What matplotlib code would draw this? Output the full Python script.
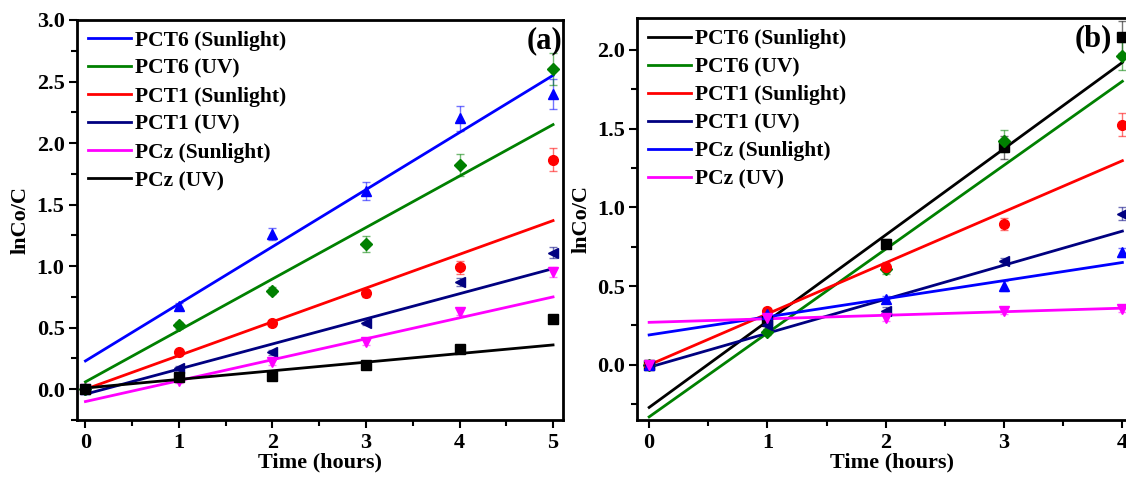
import numpy as np
import matplotlib
matplotlib.use('agg')
import matplotlib.pyplot as plt
from matplotlib.ticker import MultipleLocator

## Series names (same order in both panels)
labels = ['PCT6 (Sunlight)', 'PCT6 (UV)', 'PCT1 (Sunlight)',
          'PCT1 (UV)', 'PCz (Sunlight)', 'PCz (UV)']

## Panel (a): degradation data, 0-5 h
times_a = [0, 1, 2, 3, 4, 5]
pct6_sun_a = [0.0, 0.68, 1.26, 1.61, 2.20, 2.40]
pct6_uv_a = [0.0, 0.52, 0.80, 1.18, 1.82, 2.60]
pct1_sun_a = [0.0, 0.30, 0.535, 0.78, 0.99, 1.865]
pct1_uv_a = [0.0, 0.17, 0.30, 0.54, 0.87, 1.11]
pcz_sun_a = [0.0, 0.07, 0.22, 0.38, 0.63, 0.95]
pcz_uv_a = [0.0, 0.10, 0.11, 0.195, 0.33, 0.57]
err_a = [[0.01, 0.02, 0.05, 0.075, 0.10, 0.12],
         [0.01, 0.03, 0.03, 0.065, 0.09, 0.13],
         [0.01, 0.02, 0.02, 0.03, 0.05, 0.095],
         [0.01, 0.02, 0.02, 0.02, 0.03, 0.045],
         [0.01, 0.02, 0.02, 0.02, 0.03, 0.04],
         [0.01, 0.01, 0.01, 0.01, 0.02, 0.02]]
# linear fits: intercept, slope
fit_int_a = [0.23, 0.06, 0.0, -0.04, -0.10, 0.01]
fit_slope_a = [0.464, 0.418, 0.274, 0.204, 0.170, 0.070]

## Panel (b): degradation data, 0-4 h
times_b = [0, 1, 2, 3, 4]
pct6_sun_b = [0.0, 0.28, 0.77, 1.38, 2.08]
pct6_uv_b = [0.0, 0.21, 0.61, 1.42, 1.96]
pct1_sun_b = [0.0, 0.34, 0.62, 0.895, 1.525]
pct1_uv_b = [0.0, 0.25, 0.345, 0.66, 0.96]
pcz_sun_b = [0.0, 0.32, 0.415, 0.50, 0.715]
pcz_uv_b = [0.0, 0.30, 0.30, 0.345, 0.355]
err_b = [[0.01, 0.02, 0.03, 0.07, 0.10],
         [0.01, 0.02, 0.03, 0.07, 0.09],
         [0.01, 0.02, 0.03, 0.04, 0.075],
         [0.01, 0.02, 0.02, 0.02, 0.04],
         [0.01, 0.02, 0.02, 0.03, 0.03],
         [0.01, 0.01, 0.02, 0.02, 0.02]]
fit_int_b = [-0.27, -0.33, 0.0, -0.015, 0.19, 0.27]
fit_slope_b = [0.5475, 0.5325, 0.324, 0.216, 0.115, 0.0225]

## Colour -> marker pairing is the same in both panels
MARK = {'#0000FF': '^', '#008000': 'D', '#FF0000': 'o',
        '#000080': '<', '#FF00FF': 'v', '#000000': 's'}
colors_a = ['#0000FF', '#008000', '#FF0000', '#000080', '#FF00FF', '#000000']
colors_b = ['#000000', '#008000', '#FF0000', '#000080', '#0000FF', '#FF00FF']

plt.rcParams['font.family'] = 'Liberation Serif'
plt.rcParams['font.weight'] = 'bold'
plt.rcParams['axes.labelweight'] = 'bold'

FS = 16      # ticks and axis titles
FS_LEG = 15.5


def draw_panel(ax, t, series, errs, ints, slopes, colors, xlim, ylim, tag, tag_x):
    xfit = np.array([0, t[-1]])
    for i in range(len(series)):
        c = colors[i]
        ax.errorbar(t, series[i], yerr=errs[i], fmt='none', ecolor=c,
                    alpha=0.55, elinewidth=1, capsize=3, capthick=1, zorder=2)
        ax.plot(xfit, ints[i] + slopes[i]*xfit, color=c, lw=2,
                label=labels[i], zorder=3)
        ax.plot(t, series[i], ls='none', marker=MARK[c], color=c,
                markersize=7 if MARK[c] != 'D' else 6, zorder=4)
    ax.set_xlim(*xlim)
    ax.set_ylim(*ylim)
    ax.xaxis.set_major_locator(MultipleLocator(1))
    ax.xaxis.set_minor_locator(MultipleLocator(0.5))
    ax.yaxis.set_major_locator(MultipleLocator(0.5))
    ax.yaxis.set_minor_locator(MultipleLocator(0.25))
    ax.tick_params(which='major', direction='out', length=6, width=1.5,
                   labelsize=FS, pad=3)
    ax.tick_params(which='minor', direction='out', length=4, width=1.5)
    for sp in ax.spines.values():
        sp.set_linewidth(2)
    ax.set_xlabel('Time (hours)', fontsize=FS, labelpad=0)
    ax.set_ylabel('lnCo/C', fontsize=FS, labelpad=4)
    ax.legend(loc='upper left', frameon=False, fontsize=FS_LEG, handlelength=2.0,
              handletextpad=0.2, labelspacing=0.37, borderaxespad=0.3,
              borderpad=0.2)
    return ax.text(tag_x, 0.985, tag, transform=ax.transAxes, ha='right',
                   va='top', fontsize=22, fontweight='bold')


fig = plt.figure(figsize=(11.26, 4.84), dpi=100)
ax1 = fig.add_axes([0.0684, 0.1322, 0.4319, 0.8265])
# panel (b) runs past the right edge of the figure
ax2 = fig.add_axes([0.566, 0.1322, 0.4518, 0.8300])

draw_panel(ax1, times_a,
           [pct6_sun_a, pct6_uv_a, pct1_sun_a, pct1_uv_a, pcz_sun_a, pcz_uv_a],
           err_a, fit_int_a, fit_slope_a, colors_a,
           (-0.09, 5.11), (-0.25, 3.0), '(a)', 0.998)
draw_panel(ax2, times_b,
           [pct6_sun_b, pct6_uv_b, pct1_sun_b, pct1_uv_b, pcz_sun_b, pcz_uv_b],
           err_b, fit_int_b, fit_slope_b, colors_b,
           (-0.1, 4.2), (-0.35, 2.2), '(b)', 0.933)

fig.savefig('out.png', dpi=100)
